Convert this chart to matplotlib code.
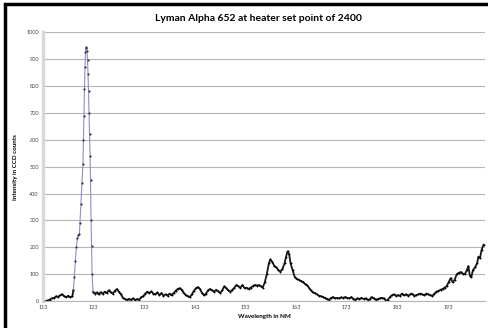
import matplotlib
matplotlib.use("Agg")
import matplotlib.pyplot as plt
from matplotlib.patches import Rectangle

plt.rcParams["font.family"] = ["Lato", "DejaVu Sans"]

# values (wavelength in nm, CCD counts)
wavelength = [
    113.4, 113.8, 114.3, 114.7, 115.2, 115.6, 116.0, 116.4, 116.8, 117.2,
    117.6, 118.0, 118.4, 118.8, 119.0, 119.2, 119.4, 119.6, 119.8, 120.0,
    120.2, 120.3, 120.5, 120.7, 120.9, 121.0, 121.1, 121.2, 121.3, 121.4,
    121.5, 121.6, 121.7, 121.8, 121.9, 122.0, 122.1, 122.2, 122.3, 122.4,
    122.5, 122.6, 122.7, 122.9, 123.2, 123.6, 124.0, 124.4, 124.8, 125.2,
    125.6, 126.0, 126.4, 126.8, 127.2, 127.6, 128.0, 128.4, 128.8, 129.2,
    129.6, 130.0, 130.4, 130.8, 131.2, 131.6, 132.0, 132.4, 132.8, 133.2,
    133.6, 134.0, 134.4, 134.8, 135.2, 135.6, 136.0, 136.4, 136.8, 137.2,
    137.6, 138.0, 138.4, 138.8, 139.2, 139.6, 140.0, 140.4, 140.8, 141.2,
    141.6, 142.0, 142.4, 142.8, 143.2, 143.6, 144.0, 144.4, 144.8, 145.2,
    145.6, 146.0, 146.4, 146.8, 147.2, 147.6, 148.0, 148.4, 148.8, 149.2,
    149.6, 150.0, 150.4, 150.8, 151.2, 151.6, 152.0, 152.4, 152.8, 153.2,
    153.6, 154.0, 154.4, 154.8, 155.2, 155.6, 156.0, 156.4, 156.8, 157.2,
    157.6, 157.9, 158.3, 158.7, 159.1, 159.5, 159.9, 160.3, 160.7, 161.0,
    161.3, 161.6, 161.9, 162.3, 162.7, 163.1, 163.5, 163.9, 164.3, 164.7,
    165.1, 165.5, 165.9, 166.3, 166.7, 167.1, 167.5, 167.9, 168.3, 168.7,
    169.1, 169.5, 169.9, 170.3, 170.7, 171.1, 171.5, 171.9, 172.3, 172.7,
    173.1, 173.5, 173.9, 174.3, 174.7, 175.1, 175.5, 175.9, 176.3, 176.7,
    177.1, 177.5, 177.9, 178.3, 178.7, 179.1, 179.5, 179.9, 180.3, 180.7,
    181.1, 181.5, 181.9, 182.3, 182.7, 183.1, 183.5, 183.9, 184.3, 184.7,
    185.1, 185.5, 185.9, 186.3, 186.7, 187.1, 187.5, 187.9, 188.3, 188.7,
    189.1, 189.5, 189.9, 190.3, 190.7, 191.1, 191.5, 191.9, 192.3, 192.7,
    193.1, 193.5, 193.9, 194.3, 194.7, 195.1, 195.5, 195.9, 196.3, 196.7,
    197.0, 197.3, 197.6, 197.9, 198.3, 198.7, 199.0, 199.3, 199.6, 200.0,
]
intensity = [
    0, 2, 5, 10, 12, 18, 16, 22, 25, 18,
    15, 20, 14, 18, 40, 90, 150, 200, 235, 245,
    250, 290, 360, 440, 510, 600, 690, 790, 870, 925,
    940, 945, 930, 895, 845, 780, 700, 620, 540, 450,
    300, 205, 100, 35, 28, 32, 25, 33, 27, 35,
    30, 40, 32, 28, 38, 45, 35, 25, 12, 8,
    5, 8, 5, 10, 4, 8, 5, 15, 18, 28,
    35, 30, 36, 28, 25, 32, 22, 30, 20, 25,
    20, 28, 22, 30, 38, 45, 48, 42, 30, 22,
    18, 15, 25, 38, 48, 52, 45, 30, 22, 28,
    40, 45, 40, 35, 42, 36, 30, 40, 55, 48,
    40, 35, 42, 50, 60, 55, 50, 60, 48, 50,
    45, 50, 55, 60, 58, 60, 55, 50, 70, 100,
    140, 155, 145, 130, 125, 115, 110, 120, 140, 165,
    185, 175, 140, 115, 90, 82, 80, 75, 72, 65,
    60, 50, 40, 32, 30, 25, 20, 18, 15, 12,
    8, 5, 12, 15, 10, 12, 10, 14, 12, 15,
    12, 10, 15, 8, 5, 10, 8, 12, 8, 10,
    5, 6, 15, 10, 5, 8, 10, 12, 10, 2,
    5, 15, 22, 25, 20, 22, 20, 28, 22, 25,
    20, 25, 28, 20, 22, 25, 28, 25, 22, 28,
    25, 22, 20, 28, 35, 38, 42, 45, 50, 55,
    70, 85, 70, 80, 100, 105, 108, 102, 100, 115,
    130, 95, 90, 115, 125, 140, 165, 160, 190, 210,
]
x_ticks = [113, 123, 133, 143, 153, 163, 173, 183, 193]
y_ticks = [0, 100, 200, 300, 400, 500, 600, 700, 800, 900, 1000]

fig = plt.figure(figsize=(4.88, 3.28), dpi=100, facecolor="white")
ax = fig.add_axes([0.088, 0.082, 0.906, 0.820])

# the peak, where the points are far apart, shows the purple line;
# elsewhere the dense points merge into a dark band
peak = [i for i, w in enumerate(wavelength) if 119.0 <= w <= 122.9]
p0, p1 = peak[0], peak[-1]
ax.plot(wavelength[:p0 + 1], intensity[:p0 + 1], color="#1a1a1a", lw=1.3,
        marker="o", ms=1.1, mfc="black", mec="black", mew=0.2)
ax.plot(wavelength[p1:], intensity[p1:], color="#1a1a1a", lw=1.3,
        marker="o", ms=1.1, mfc="black", mec="black", mew=0.2)
ax.plot(wavelength[p0:p1 + 1], intensity[p0:p1 + 1], color="#9d86c8", lw=0.8,
        marker="o", ms=1.3, mfc="#333333", mec="#333333", mew=0.2)

ax.set_xlim(113, 200.3)
ax.set_ylim(0, 1000)
ax.set_xticks(x_ticks)
ax.set_yticks(y_ticks)
ax.tick_params(labelsize=4, colors="#444444", length=0, pad=3)
ax.yaxis.grid(True, color="#b5b5b5", lw=0.8)
ax.set_axisbelow(True)
for side in ["top", "right"]:
    ax.spines[side].set_visible(False)
ax.spines["left"].set_color("#d9d9d9")
ax.spines["left"].set_linewidth(2.5)
ax.spines["bottom"].set_color("#b5b5b5")
ax.spines["bottom"].set_linewidth(0.8)

ax.set_xlabel("Wavelength in NM", fontsize=4.5, fontweight="bold", labelpad=3)
ax.set_ylabel("Intensity in CCD counts", fontsize=4.5, fontweight="bold", labelpad=6)
fig.text(0.53, 0.943, "Lyman Alpha 652 at heater set point of 2400",
         ha="center", va="center", fontsize=7.5, fontweight="bold")

# black frame around the whole chart
fig.patches.append(Rectangle((0.011, -0.05), 1.2, 1.038, transform=fig.transFigure,
                             fill=False, ec="black", lw=2.5))

fig.savefig("out.png", dpi=100)
